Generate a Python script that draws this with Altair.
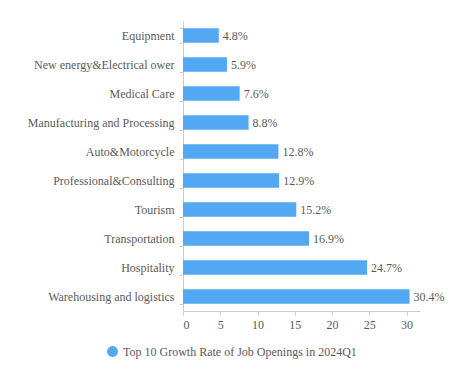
import altair as alt
import pandas as pd

categories = ["Equipment", "New energy&Electrical ower", "Medical Care",
              "Manufacturing and Processing", "Auto&Motorcycle",
              "Professional&Consulting", "Tourism", "Transportation",
              "Hospitality", "Warehousing and logistics"]
values = [4.8, 5.9, 7.6, 8.8, 12.8, 12.9, 15.2, 16.9, 24.7, 30.4]
series_name = "Top 10 Growth Rate of Job Openings in 2024Q1"

df = pd.DataFrame({"category": categories, "value": values,
                   "label": [f"{v}%" for v in values],
                   "series": [series_name] * len(values)})

FONT = "Liberation Serif"
GRAY = "#5a5a5a"
BLUE = "#52A8F2"

base = alt.Chart(df).encode(
    y=alt.Y("category:N", sort=categories, title=None,
            scale=alt.Scale(paddingInner=0.5, paddingOuter=0.25),
            axis=alt.Axis(tickBand="extent", tickSize=4, tickColor="#cccccc",
                          domainColor="#cccccc", labelPadding=5,
                          labelFont=FONT, labelFontSize=12, labelColor=GRAY,
                          grid=False)),
    x=alt.X("value:Q", title=None,
            scale=alt.Scale(domain=[0, 31.8], nice=False),
            axis=alt.Axis(values=[0, 5, 10, 15, 20, 25, 30], tickSize=4,
                          tickColor="#cccccc", domainColor="#cccccc",
                          labelFont=FONT, labelFontSize=12, labelColor=GRAY,
                          labelPadding=4, grid=False)),
)

bars = base.mark_bar(color=BLUE).encode(
    color=alt.Color("series:N", scale=alt.Scale(range=[BLUE]),
                    legend=alt.Legend(title=None, orient="none",
                                      legendX=-77, legendY=324,
                                      symbolType="circle", symbolSize=120,
                                      labelFont=FONT, labelFontSize=12,
                                      labelColor=GRAY, labelLimit=400))
)

labels = base.mark_text(align="left", dx=4, font=FONT, fontSize=12,
                        color=GRAY).encode(text="label:N")

chart = (bars + labels).properties(
    width=237, height=290,
    autosize=alt.AutoSizeParams(type="none"),
    padding={"left": 175, "top": 13, "right": 40, "bottom": 60},
).configure_view(stroke=None)

chart.save("out.html", embed_options={"renderer": "svg", "actions": False})
